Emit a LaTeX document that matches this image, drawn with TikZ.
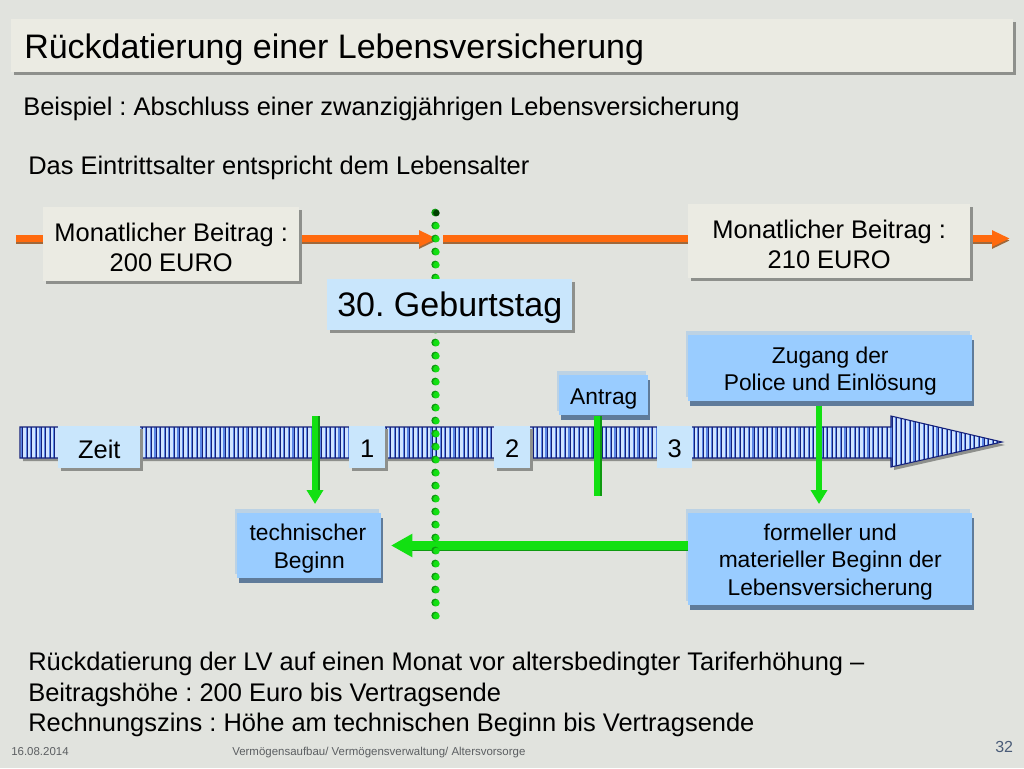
\documentclass[tikz,border=0pt]{standalone}
\usepackage{fontspec}
\setmainfont{Liberation Sans}
\usetikzlibrary{shadows,arrows.meta}
\frenchspacing
\definecolor{bgc}{HTML}{E1E3DE}
\definecolor{creamc}{HTML}{EBEBE3}
\definecolor{paleb}{HTML}{C9E6FC}
\definecolor{midb}{HTML}{99CCFF}
\definecolor{shgray}{HTML}{8E908C}
\definecolor{shblue}{HTML}{5F7B9A}
\definecolor{backb}{HTML}{BCD2E4}
\definecolor{greenc}{HTML}{12E012}
\definecolor{greend}{HTML}{0E9A10}
\definecolor{orangec}{HTML}{FF6A0E}
\definecolor{oranged}{HTML}{A0683A}
\definecolor{hatchb}{HTML}{14207A}
\definecolor{hatchm}{HTML}{5A86E6}
\definecolor{hatchp}{HTML}{CFE4FF}
\definecolor{numc}{HTML}{4A5C78}
\definecolor{footc}{HTML}{5C5F62}
\newcommand\dn[1]{\rule{0pt}{#1pt}}
\tikzset{
  fs/.style={font=\fontsize{#1}{22.5}\selectfont},
  fb/.style={font=\fontsize{17.1}{20.5}\selectfont},
  sz/.style 2 args={minimum width=#1*0.75pt,minimum height=#2*0.75pt,inner sep=0pt,align=center},
  creambox/.style={fill=creamc,draw=none,drop shadow={shadow xshift=2.25pt,shadow yshift=-2.25pt,opacity=1,fill=shgray}},
  palebox/.style={fill=paleb,draw=none,drop shadow={shadow xshift=2.25pt,shadow yshift=-2.25pt,opacity=1,fill=shgray}},
  flatbox/.style={fill=paleb,draw=none},
  bluebox/.style={fill=midb,draw=none,
    general shadow={shadow xshift=-1.5pt,shadow yshift=3pt,opacity=1,fill=backb},
    drop shadow={shadow xshift=1pt,shadow yshift=-3.75pt,opacity=1,fill=shblue}},
  plain/.style={anchor=base west,inner sep=0pt},
  greenline/.style={line width=5pt,greenc},
  greenshade/.style={line width=5pt,greend},
  greenwide/.style={line width=6.5pt,greenc},
  greenwideshade/.style={line width=6.5pt,greend},
  tipg/.style={-{Triangle[length=10.5pt,width=12pt]}},
  tipgw/.style={-{Triangle[length=16pt,width=16.5pt]}},
  orangeline/.style={line width=5pt,orangec},
  orangeshade/.style={line width=5pt,oranged},
  tipo/.style={-{Triangle[length=13.5pt,width=11.5pt]}},
}
\begin{document}
\begin{tikzpicture}[x=0.75pt,y=-0.75pt]
\useasboundingbox (0,0) rectangle (1024,768);
\fill[bgc] (0,0) rectangle (1024,768);

% title and texts
\node[creambox,sz={1002}{53},anchor=north west] (titlebox) at (11,19) {};
\node[plain,fs=25.5] (title) at (24,58) {Rückdatierung einer Lebensversicherung};
\node[plain,fs=19.1] (ex) at (23,115) {Beispiel : Abschluss einer zwanzigjährigen Lebensversicherung};
\node[plain,fs=19.1] (das) at (28,174) {Das Eintrittsalter entspricht dem Lebensalter};

% orange time line
\coordinate (oa) at (16,238.5);
\coordinate (ob) at (437,238.5);
\coordinate (oc) at (443,238.5);
\coordinate (od) at (1010,238.5);
\draw[orangeshade,tipo] ([yshift=-1.5pt]oa) -- ([yshift=-1.5pt]ob);
\draw[orangeshade,tipo] ([yshift=-1.5pt]oc) -- ([yshift=-1.5pt]od);
\draw[orangeline,tipo] (oa) -- (ob);
\draw[orangeline,tipo] (oc) -- (od);

% time arrow
\fill[shgray,shift={(3,3)}] (20,427) -- (891,427) -- (891,416) -- (1002,442) -- (891,467) -- (891,458) -- (20,458) -- cycle;
\begin{scope}
\clip (20,427) -- (891,427) -- (891,416) -- (1002,442) -- (891,467) -- (891,458) -- (20,458) -- cycle;
\fill[hatchp] (20,410) rectangle (1005,470);
\foreach \xx in {21,25.6,...,1002}{\fill[hatchm] (\xx,410) rectangle (\xx+1.6,470);\draw[hatchb,line width=0.6pt] (\xx+1.6,410) -- (\xx+1.6,470);}
\end{scope}
\draw[hatchb,line width=0.8pt,line join=miter] (20,427) -- (891,427) -- (891,416) -- (1002,442) -- (891,467) -- (891,458) -- (20,458) -- cycle;

% small labels on the arrow
\node[palebox,sz={82}{42},fs=19.1,anchor=north west] (zeit) at (58,426) {\dn{16.5}Zeit};
\node[palebox,sz={36}{42},fs=19.1,anchor=north west] (n1) at (349,426) {\dn{16}1};
\node[palebox,sz={36}{42},fs=19.1,anchor=north west] (n2) at (494,426) {\dn{16}2};
\node[flatbox,sz={35}{42},fs=19.1,anchor=north west] (n3) at (657,426) {\dn{16}3};

% blue boxes
\node[bluebox,sz={284}{66},fb,anchor=north west] (zug) at (688,335) {\dn{16.5}Zugang der\\Police und Einlösung};
\node[bluebox,sz={89}{40},fb,anchor=north west] (antrag) at (559,375) {\dn{17}Antrag};
\node[bluebox,sz={144}{65},fb,anchor=north west] (tech) at (237,513) {\dn{16.5}technischer\hspace*{2pt}\\Beginn};
\node[bluebox,sz={284}{92},fb,anchor=north west] (form) at (688,513) {\dn{16.5}formeller und\\materieller Beginn der\\Lebensversicherung};

% green connectors
\coordinate (g1a) at (315,416);
\coordinate (g1b) at (315,504);
\coordinate (g1c) at (315,492);
\coordinate (g2a) at (597,416);
\coordinate (g2b) at (597,496);
\coordinate (g3a) at (819,406);
\coordinate (g3b) at (819,504);
\coordinate (g3c) at (819,492);
\coordinate (g4a) at (688,545.5);
\coordinate (g4b) at (391,545.5);
\coordinate (g4c) at (412,545.5);
\draw[greenshade] ([xshift=1.5pt]g1a) -- ([xshift=1.5pt]g1c);
\draw[greenline,tipg] (g1a) -- (g1b);
\draw[greenshade] ([xshift=1.5pt]g2a) -- ([xshift=1.5pt]g2b);
\draw[greenline] (g2a) -- (g2b);
\draw[greenline,tipg] (g3a) -- (g3b);
\draw[greenwideshade] ([yshift=-1pt]g4a) -- ([yshift=-1pt]g4c);
\draw[greenwide,tipgw] (g4a) -- (g4b);

% dotted line
\foreach \i in {0,...,31}{
  \pgfmathsetmacro{\yy}{213+13*\i}
  \fill[greend] (435.2,\yy-0.5) circle[radius=3.9];
  \ifnum\i=0\else\fill[greenc] (436.4,\yy) circle[radius=3.3];\fi
}
\fill[black!75!green] (436.4,213) circle[radius=3.3];

% top boxes
\node[creambox,sz={256}{74},fs=19.1,anchor=north west] (m1) at (43,207) {\dn{18}Monatlicher Beitrag :\\200 EURO};
\node[creambox,sz={282}{74},fs=19.1,anchor=north west] (m2) at (688,204) {\dn{18}Monatlicher Beitrag :\\210 EURO};
\node[palebox,sz={245}{51},fs=25.5,anchor=north west] (geb) at (327,279) {\dn{23}30. Geburtstag};

% bottom
\node[plain,fs=19.1] (b1) at (28,670) {Rückdatierung der LV auf einen Monat vor altersbedingter Tariferhöhung –};
\node[plain,fs=19.1] (b2) at (28,701) {Beitragshöhe : 200 Euro bis Vertragsende};
\node[plain,fs=19.1] (b3) at (28,731) {Rechnungszins : Höhe am technischen Beginn bis Vertragsende};
\node[plain,fs=8.6,text=footc] (date) at (11,755) {16.08.2014};
\node[plain,fs=8.6,text=footc] (foot) at (232,755) {Vermögensaufbau/ Vermögensverwaltung/ Altersvorsorge};
\node[plain,fs=12,text=numc] (page) at (995,752) {32};
\end{tikzpicture}
\end{document}
